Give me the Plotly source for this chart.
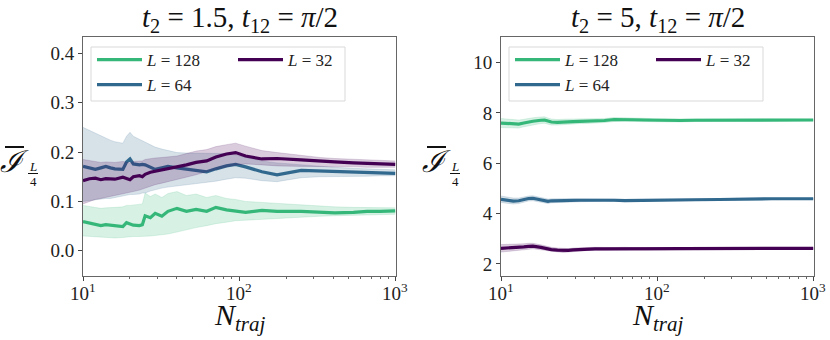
import math

import plotly.graph_objects as go

# number of trajectories (shared x grid)
n_traj = [10, 11, 12, 13, 14, 15, 16, 18, 19, 20, 21, 23, 24, 25, 27, 29, 32, 35, 40,
          46, 53, 62, 71, 83, 95, 110, 140, 175, 250, 330, 410, 540, 660, 800, 1000]

# left panel: t2 = 1.5
left_128 = [0.059, 0.056, 0.052, 0.051, 0.053, 0.052, 0.050, 0.049, 0.057, 0.054, 0.052, 0.051,
            0.053, 0.071, 0.067, 0.076, 0.070, 0.080, 0.086, 0.080, 0.084, 0.080, 0.088, 0.083,
            0.080, 0.078, 0.082, 0.080, 0.080, 0.078, 0.077, 0.078, 0.080, 0.080, 0.081]
left_128_lo = [0.030, 0.029, 0.028, 0.027, 0.027, 0.026, 0.026, 0.027, 0.028, 0.028, 0.029, 0.029,
               0.029, 0.029, 0.030, 0.031, 0.032, 0.034, 0.038, 0.043, 0.047, 0.051, 0.055, 0.058,
               0.061, 0.062, 0.064, 0.066, 0.068, 0.070, 0.071, 0.072, 0.073, 0.074, 0.074]
left_128_hi = [0.092, 0.090, 0.088, 0.086, 0.087, 0.087, 0.088, 0.089, 0.092, 0.092, 0.093, 0.094,
               0.095, 0.117, 0.110, 0.115, 0.108, 0.116, 0.120, 0.112, 0.115, 0.108, 0.112, 0.106,
               0.104, 0.100, 0.098, 0.095, 0.092, 0.090, 0.089, 0.088, 0.088, 0.087, 0.087]

left_64 = [0.171, 0.168, 0.165, 0.168, 0.171, 0.168, 0.166, 0.165, 0.180, 0.186, 0.176, 0.174,
           0.175, 0.174, 0.170, 0.165, 0.168, 0.171, 0.168, 0.165, 0.162, 0.160, 0.166, 0.172,
           0.175, 0.170, 0.160, 0.154, 0.163, 0.162, 0.160, 0.160, 0.158, 0.158, 0.157]
left_64_lo = [0.100, 0.102, 0.104, 0.105, 0.106, 0.106, 0.108, 0.111, 0.113, 0.114, 0.114, 0.115,
              0.117, 0.117, 0.121, 0.124, 0.127, 0.129, 0.131, 0.133, 0.136, 0.139, 0.141, 0.145,
              0.148, 0.147, 0.142, 0.140, 0.148, 0.150, 0.150, 0.151, 0.151, 0.152, 0.152]
left_64_hi = [0.250, 0.244, 0.238, 0.232, 0.228, 0.224, 0.221, 0.218, 0.232, 0.240, 0.232, 0.226,
              0.222, 0.219, 0.214, 0.210, 0.206, 0.203, 0.199, 0.198, 0.198, 0.197, 0.198, 0.197,
              0.194, 0.190, 0.182, 0.178, 0.174, 0.171, 0.169, 0.167, 0.166, 0.165, 0.164]

left_32 = [0.142, 0.146, 0.147, 0.144, 0.146, 0.146, 0.145, 0.149, 0.146, 0.144, 0.150, 0.152,
           0.150, 0.155, 0.159, 0.161, 0.163, 0.165, 0.170, 0.174, 0.179, 0.182, 0.190, 0.196,
           0.199, 0.192, 0.186, 0.187, 0.184, 0.181, 0.180, 0.178, 0.177, 0.177, 0.175]
left_32_lo = [0.095, 0.100, 0.104, 0.106, 0.108, 0.110, 0.112, 0.116, 0.117, 0.118, 0.120, 0.123,
              0.125, 0.127, 0.130, 0.134, 0.137, 0.140, 0.143, 0.148, 0.154, 0.160, 0.165, 0.170,
              0.174, 0.176, 0.174, 0.172, 0.171, 0.171, 0.170, 0.170, 0.169, 0.169, 0.169]
left_32_hi = [0.185, 0.183, 0.180, 0.179, 0.180, 0.180, 0.179, 0.181, 0.180, 0.178, 0.181, 0.182,
              0.182, 0.185, 0.187, 0.188, 0.189, 0.190, 0.192, 0.197, 0.202, 0.205, 0.211, 0.215,
              0.218, 0.212, 0.203, 0.199, 0.193, 0.189, 0.187, 0.185, 0.184, 0.183, 0.182]

# right panel: t2 = 5 (mean and half-width of the band)
right_128 = [7.60, 7.58, 7.56, 7.56, 7.60, 7.64, 7.67, 7.71, 7.72, 7.68, 7.64, 7.63, 7.64, 7.65,
             7.66, 7.66, 7.67, 7.67, 7.68, 7.70, 7.74, 7.75, 7.73, 7.72, 7.71, 7.71, 7.70, 7.71,
             7.71, 7.72, 7.71, 7.71, 7.72, 7.72, 7.72]
right_128_err = [0.18, 0.17, 0.16, 0.16, 0.15, 0.15, 0.14, 0.13, 0.13, 0.12, 0.12, 0.11, 0.11, 0.10,
                 0.10, 0.10, 0.09, 0.09, 0.09, 0.08, 0.08, 0.07, 0.07, 0.07, 0.06, 0.06, 0.06, 0.05,
                 0.05, 0.05, 0.04, 0.04, 0.04, 0.03, 0.03]
right_64 = [4.57, 4.54, 4.50, 4.51, 4.56, 4.60, 4.61, 4.55, 4.50, 4.49, 4.51, 4.52, 4.51, 4.52,
            4.52, 4.53, 4.53, 4.53, 4.54, 4.55, 4.53, 4.52, 4.52, 4.52, 4.53, 4.54, 4.54, 4.55,
            4.56, 4.58, 4.58, 4.59, 4.59, 4.59, 4.59]
right_64_err = [0.13, 0.12, 0.12, 0.11, 0.11, 0.10, 0.10, 0.09, 0.09, 0.09, 0.08, 0.08, 0.08, 0.07,
                0.07, 0.07, 0.06, 0.06, 0.06, 0.05, 0.05, 0.05, 0.05, 0.04, 0.04, 0.04, 0.04, 0.03,
                0.03, 0.03, 0.03, 0.03, 0.02, 0.02, 0.02]
right_32 = [2.62, 2.63, 2.64, 2.66, 2.68, 2.70, 2.71, 2.66, 2.62, 2.60, 2.57, 2.55, 2.54, 2.53,
            2.54, 2.56, 2.58, 2.59, 2.60, 2.60, 2.60, 2.61, 2.60, 2.59, 2.59, 2.60, 2.61, 2.61,
            2.61, 2.61, 2.61, 2.62, 2.62, 2.62, 2.62]
right_32_err = [0.15, 0.14, 0.13, 0.13, 0.12, 0.12, 0.11, 0.10, 0.10, 0.09, 0.09, 0.08, 0.08, 0.08,
                0.07, 0.07, 0.07, 0.06, 0.06, 0.05, 0.05, 0.05, 0.04, 0.04, 0.04, 0.04, 0.03, 0.03,
                0.03, 0.03, 0.03, 0.02, 0.02, 0.02, 0.02]

x_tickvals = [10, 100, 1000]
x_ticktext = ["10<sup>1</sup>", "10<sup>2</sup>", "10<sup>3</sup>"]
x_minor = [20, 30, 40, 50, 60, 70, 80, 90, 200, 300, 400, 500, 600, 700, 800, 900]
left_yticks = [0.0, 0.1, 0.2, 0.3, 0.4]
right_yticks = [2, 4, 6, 8, 10]

colors = {"128": (53, 183, 121), "64": (49, 104, 142), "32": (68, 1, 84)}
SERIF = "Liberation Serif"
W, H = 830, 340

fig = go.Figure()


def px_x(p):
    return p / W


def px_y(p):
    return 1 - p / H


def add_series(key, mean, lo, hi, xa, ya, legend, rank):
    r, g, b = colors[key]
    fig.add_trace(go.Scatter(
        x=n_traj, y=hi, xaxis=xa, yaxis=ya, mode="lines",
        line=dict(width=0.6, color=f"rgba({r},{g},{b},0.25)"),
        showlegend=False, hoverinfo="skip",
    ))
    fig.add_trace(go.Scatter(
        x=n_traj, y=lo, xaxis=xa, yaxis=ya, mode="lines", fill="tonexty",
        fillcolor=f"rgba({r},{g},{b},0.2)",
        line=dict(width=0.6, color=f"rgba({r},{g},{b},0.25)"),
        showlegend=False, hoverinfo="skip",
    ))
    fig.add_trace(go.Scatter(
        x=n_traj, y=mean, xaxis=xa, yaxis=ya, mode="lines",
        line=dict(width=3.2, color=f"rgb({r},{g},{b})"),
        name=f"<i>L</i> = {key}", legend=legend, legendrank=rank,
    ))


# two legend columns per panel: (128, 64) | (32)
add_series("128", left_128, left_128_lo, left_128_hi, "x", "y", "legend", 1)
add_series("64", left_64, left_64_lo, left_64_hi, "x", "y", "legend", 2)
add_series("32", left_32, left_32_lo, left_32_hi, "x", "y", "legend3", 1)

for key, mean, err, leg, rank in [("128", right_128, right_128_err, "legend2", 1),
                                  ("64", right_64, right_64_err, "legend2", 2),
                                  ("32", right_32, right_32_err, "legend4", 1)]:
    lo = [m - e for m, e in zip(mean, err)]
    hi = [m + e for m, e in zip(mean, err)]
    add_series(key, mean, lo, hi, "x2", "y2", leg, rank)

axis_common = dict(
    showline=True, mirror=True, linecolor="#666666", linewidth=1,
    showgrid=False, zeroline=False, ticks="outside", ticklen=4, tickcolor="#444444",
    tickfont=dict(family=SERIF, size=19, color="#222222"),
)
xaxis_common = dict(
    axis_common, type="log", range=[1, 3.005], tickmode="array",
    tickvals=x_tickvals, showticklabels=False,
    minor=dict(ticks="outside", ticklen=2, tickcolor="#666666", tickmode="array", tickvals=x_minor),
)

legend_common = dict(
    orientation="v", xanchor="left", yanchor="top", itemwidth=45, traceorder="normal",
    bgcolor="rgba(0,0,0,0)", borderwidth=0, tracegroupgap=0,
    font=dict(family=SERIF, size=17, color="#222222"),
)

fig.update_layout(
    width=W, height=H,
    margin=dict(l=0, r=0, t=0, b=0, autoexpand=False),
    paper_bgcolor="white", plot_bgcolor="white",
    xaxis=dict(xaxis_common, domain=[px_x(83), px_x(396)], anchor="y"),
    yaxis=dict(axis_common, domain=[px_y(276), px_y(37)], range=[-0.051, 0.433],
               tickmode="array", tickvals=left_yticks, tickformat=".1f", anchor="x"),
    xaxis2=dict(xaxis_common, domain=[px_x(501), px_x(814)], anchor="y2"),
    yaxis2=dict(axis_common, domain=[px_y(276), px_y(37)], range=[1.52, 11.02],
                tickmode="array", tickvals=right_yticks, anchor="x2"),
    legend=dict(legend_common, x=px_x(92), y=px_y(42)),
    legend3=dict(legend_common, x=px_x(233), y=px_y(42)),
    legend2=dict(legend_common, x=px_x(510), y=px_y(42)),
    legend4=dict(legend_common, x=px_x(651), y=px_y(42)),
    showlegend=True,
)

# legend frames
for x0, x1 in [(91, 345), (509, 763)]:
    fig.add_shape(type="rect", xref="paper", yref="paper",
                  x0=px_x(x0), x1=px_x(x1), y0=px_y(101), y1=px_y(47),
                  fillcolor="white", line=dict(color="#d9d9d9", width=1), layer="above")

# x tick labels (10^1 .. 10^3) just under each axis; log axes take log10 positions
for xref in ["x", "x2"]:
    for val, txt in zip(x_tickvals, x_ticktext):
        fig.add_annotation(x=math.log10(val), xref=xref, y=px_y(278), yref="paper",
                           text=txt, showarrow=False, xanchor="center", yanchor="top",
                           font=dict(family=SERIF, size=19, color="#222222"))

title_font = dict(family=SERIF, size=29, color="#111111")
label_font = dict(family=SERIF, size=30, color="#111111")
for xc, title in [((83 + 396) / 2, "<i>t</i><sub>2</sub> = 1.5, <i>t</i><sub>12</sub> = <i>π</i>/2"),
                  ((501 + 814) / 2, "<i>t</i><sub>2</sub> = 5, <i>t</i><sub>12</sub> = <i>π</i>/2")]:
    fig.add_annotation(x=px_x(xc), y=px_y(19), xref="paper", yref="paper", text=title,
                       showarrow=False, font=title_font, xanchor="center", yanchor="middle")
    fig.add_annotation(x=px_x(xc), y=px_y(317), xref="paper", yref="paper",
                       text="<i>N</i><sub><i>traj</i></sub>",
                       showarrow=False, font=label_font, xanchor="center", yanchor="middle")

# y labels: barred I with stacked L/4 subscript
small_font = dict(family=SERIF, size=13, color="#111111")
for x0 in [2, 424]:
    fig.add_annotation(x=px_x(x0 + 12), y=px_y(161), xref="paper", yref="paper",
                       text="<i>ℐ</i>", showarrow=False,
                       font=dict(family=SERIF, size=30, color="#111111"),
                       xanchor="center", yanchor="middle")
    fig.add_shape(type="line", xref="paper", yref="paper",
                  x0=px_x(x0 + 3), x1=px_x(x0 + 22), y0=px_y(147), y1=px_y(147),
                  line=dict(color="#111111", width=2))
    fig.add_annotation(x=px_x(x0 + 31), y=px_y(166), xref="paper", yref="paper",
                       text="<i>L</i>", showarrow=False, font=small_font,
                       xanchor="center", yanchor="middle")
    fig.add_annotation(x=px_x(x0 + 31), y=px_y(181), xref="paper", yref="paper",
                       text="4", showarrow=False, font=small_font,
                       xanchor="center", yanchor="middle")
    fig.add_shape(type="line", xref="paper", yref="paper",
                  x0=px_x(x0 + 26), x1=px_x(x0 + 36), y0=px_y(173.5), y1=px_y(173.5),
                  line=dict(color="#111111", width=1))

fig.write_html("out.html", config={"displayModeBar": False},
               post_script="document.body.style.margin='0';")
